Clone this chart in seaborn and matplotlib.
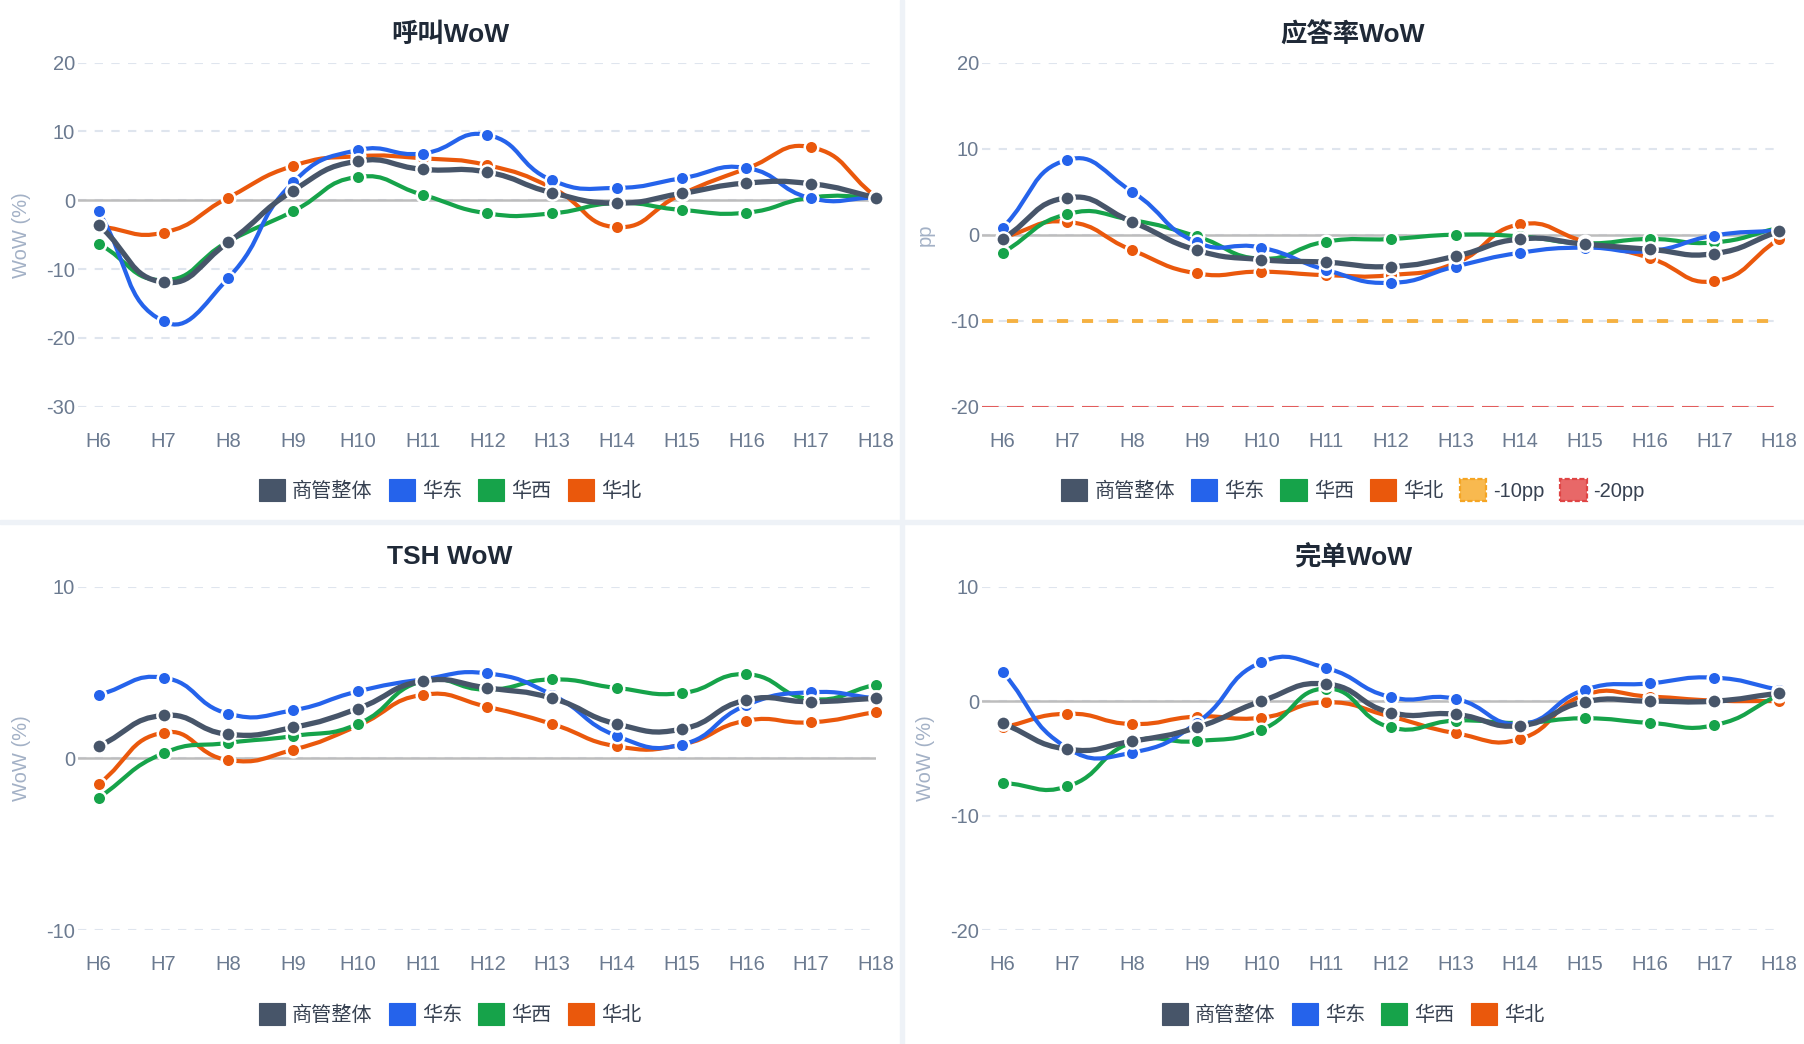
"""
plot.py

Hourly WoW dashboard: 呼叫 / 应答率 / TSH / 完单, four regions each.
Saves out.png (1804x1044).
"""

# =============================================================================
# IMPORTS
# =============================================================================

import numpy as np

import matplotlib
matplotlib.use("Agg")
import matplotlib.pyplot as plt
from matplotlib.path import Path
from matplotlib.patches import PathPatch, Patch, Rectangle

import seaborn as sns

# =============================================================================
# DATA
# =============================================================================

HOURS = ["H6", "H7", "H8", "H9", "H10", "H11", "H12",
         "H13", "H14", "H15", "H16", "H17", "H18"]

SERIES_NAMES = ["商管整体", "华东", "华西", "华北"]

# 呼叫WoW (%)
call_overall = [-3.6, -11.9, -6.1, 1.4, 5.7, 4.5, 4.1, 1.1, -0.4, 1.0, 2.5, 2.4, 0.4]
call_east = [-1.6, -17.6, -11.3, 2.6, 7.3, 6.8, 9.5, 2.9, 1.8, 3.2, 4.7, 0.3, 0.4]
call_west = [-6.3, -11.6, -6.0, -1.6, 3.4, 0.8, -1.9, -1.9, -0.4, -1.4, -1.8, 0.4, 0.5]
call_north = [-3.8, -4.7, 0.4, 5.0, 6.4, 6.1, 5.1, 1.8, -3.9, 0.9, 4.6, 7.7, 0.5]

# 应答率WoW (pp)
answer_overall = [-0.5, 4.3, 1.5, -1.8, -2.9, -3.2, -3.7, -2.5, -0.5, -1.1, -1.7, -2.2, 0.4]
answer_east = [0.8, 8.7, 5.0, -0.9, -1.5, -4.1, -5.6, -3.7, -2.1, -1.5, -1.9, -0.1, 0.5]
answer_west = [-2.1, 2.4, 1.7, -0.2, -2.8, -0.8, -0.5, 0.0, -0.2, -1.0, -0.5, -0.9, 0.8]
answer_north = [-0.3, 1.5, -1.8, -4.5, -4.3, -4.7, -4.7, -3.3, 1.2, -0.8, -2.7, -5.4, -0.5]

# TSH WoW (%)
tsh_overall = [0.7, 2.5, 1.4, 1.8, 2.9, 4.5, 4.1, 3.5, 2.0, 1.7, 3.4, 3.3, 3.5]
tsh_east = [3.7, 4.7, 2.6, 2.8, 3.9, 4.6, 4.95, 3.7, 1.3, 0.8, 3.1, 3.85, 3.5]
tsh_west = [-2.3, 0.3, 0.9, 1.3, 2.0, 4.5, 4.0, 4.6, 4.1, 3.8, 4.9, 3.45, 4.3]
tsh_north = [-1.5, 1.5, -0.1, 0.5, 1.9, 3.7, 3.0, 2.0, 0.7, 0.8, 2.2, 2.1, 2.7]

# 完单WoW (%)
done_overall = [-1.95, -4.2, -3.5, -2.3, 0.0, 1.5, -1.0, -1.15, -2.15, -0.05, 0.0, 0.0, 0.7]
done_east = [2.55, -4.1, -4.5, -1.9, 3.4, 2.9, 0.35, 0.2, -2.0, 1.0, 1.55, 2.05, 1.0]
done_west = [-7.15, -7.45, -3.6, -3.5, -2.5, 1.1, -2.3, -1.7, -1.9, -1.5, -1.9, -2.1, 0.55]
done_north = [-2.3, -1.1, -2.0, -1.35, -1.45, -0.1, -1.35, -2.8, -3.3, 0.55, 0.4, 0.05, 0.0]

# 应答率 alert thresholds
THRESHOLD_VALUES = [-10, -20]
THRESHOLD_LABELS = ["-10pp", "-20pp"]

# =============================================================================
# STYLE
# =============================================================================

SERIES_COLORS = ["#475569", "#2563eb", "#16a34a", "#ea580c"]
SERIES_WIDTHS = [3.8, 3.0, 3.0, 3.0]

THRESHOLD_LINE_COLORS = ["#f5b142", "#e25d5d"]
THRESHOLD_FACE_COLORS = ["#f8b94f", "#e86868"]
THRESHOLD_EDGE_COLORS = ["#f5a524", "#df4545"]

TITLE_COLOR = "#1f2937"
TICK_COLOR = "#6b7a90"
YLABEL_COLOR = "#a3b1c6"
LEGEND_TEXT_COLOR = "#374151"
GRID_COLOR = "#dfe5ee"
ZERO_COLOR = "#bdbdbd"
DIVIDER_COLOR = "#eef2f7"

FIG_W, FIG_H = 1804, 1044
DPI = 100

sns.set_theme(style="white")
plt.rcParams["font.family"] = ["Liberation Sans", "Noto Sans CJK SC", "DejaVu Sans"]
plt.rcParams["axes.unicode_minus"] = False
plt.rcParams["lines.scale_dashes"] = False

# =============================================================================
# HELPERS
# =============================================================================


def px_box(left, top, right, bottom):
    """Pixel box -> figure fraction [x, y, w, h]."""
    return [
        left / FIG_W,
        1 - bottom / FIG_H,
        (right - left) / FIG_W,
        (bottom - top) / FIG_H,
    ]


def smooth_path(ax, xs, ys, smooth=0.5):
    """
    Cubic bezier path through the points, same rule ECharts uses
    for smooth lines (control points computed in screen space).
    """
    pts = ax.transData.transform(np.column_stack([xs, ys]))
    n = len(pts)
    cp_in = pts.copy()
    cp_out = pts.copy()

    for i in range(n):
        prev = pts[i - 1] if i > 0 else pts[i]
        nxt = pts[i + 1] if i < n - 1 else pts[i]
        v = nxt - prev
        d0 = np.hypot(*(pts[i] - prev))
        d1 = np.hypot(*(nxt - pts[i]))
        total = d0 + d1
        if total == 0:
            continue
        ratio = d1 / total
        cp_in[i] = pts[i] - v * smooth * (1 - ratio)
        cp_out[i] = pts[i] + v * smooth * ratio

    verts = [pts[0]]
    codes = [Path.MOVETO]
    for i in range(n - 1):
        verts += [cp_out[i], cp_in[i + 1], pts[i + 1]]
        codes += [Path.CURVE4] * 3

    verts = ax.transData.inverted().transform(np.array(verts))
    return Path(verts, codes)


def draw_panel(
    fig,
    box,
    title,
    title_xy,
    series_values,
    ylim,
    yticks,
    ylabel,
    legend_xy,
    thresholds=None
):
    """
    One dashboard card: smooth lines + markers, grid, zero line, legend.
    """

    ax = fig.add_axes(box)

    x_idx = np.arange(len(HOURS))

    ax.set_xlim(-0.32, len(HOURS) - 1)
    ax.set_ylim(*ylim)
    ax.set_yticks(yticks)
    ax.set_xticks(x_idx)
    ax.set_xticklabels(HOURS)

    sns.despine(ax=ax, left=True, bottom=True)

    ax.tick_params(axis="x", length=0, pad=18, labelsize=14.5, labelcolor=TICK_COLOR)
    ax.tick_params(axis="y", length=0, pad=2, labelsize=14.5, labelcolor=TICK_COLOR)

    ax.grid(axis="y", color=GRID_COLOR, linestyle=(0, (6, 6)), linewidth=1.5)
    ax.grid(axis="x", visible=False)
    ax.set_axisbelow(True)

    ax.axhline(0, color=ZERO_COLOR, linewidth=1.8, zorder=1)

    ax.set_ylabel(ylabel, fontsize=14.5, color=YLABEL_COLOR)
    ax.yaxis.set_label_coords(-0.059, 0.5)

    handles = [
        Patch(facecolor=c, edgecolor=c, linewidth=0.8)
        for c in SERIES_COLORS
    ]
    labels = list(SERIES_NAMES)

    if thresholds is not None:
        dash_styles = [(0, (8, 10)), (0, (12, 6))]
        widths = [2.8, 1.5]
        for k, value in enumerate(thresholds):
            ax.axhline(
                value,
                color=THRESHOLD_LINE_COLORS[k],
                linestyle=dash_styles[k],
                linewidth=widths[k],
                zorder=2
            )
            handles.append(
                Patch(
                    facecolor=THRESHOLD_FACE_COLORS[k],
                    edgecolor=THRESHOLD_EDGE_COLORS[k],
                    linestyle="--",
                    linewidth=1.6
                )
            )
            labels.append(THRESHOLD_LABELS[k])

    # last legend series drawn first, 商管整体 on top
    for k in reversed(range(len(series_values))):
        values = series_values[k]
        color = SERIES_COLORS[k]
        z = 3 + (len(series_values) - k)

        path = smooth_path(ax, x_idx, values)
        ax.add_patch(
            PathPatch(
                path,
                facecolor="none",
                edgecolor=color,
                linewidth=SERIES_WIDTHS[k],
                capstyle="round",
                joinstyle="round",
                zorder=z,
                clip_on=False
            )
        )

        sns.scatterplot(
            x=x_idx,
            y=values,
            ax=ax,
            color=color,
            s=105 if k == 0 else 95,
            edgecolor="white",
            linewidth=1.8,
            zorder=z,
            clip_on=False,
            legend=False
        )

    fig.text(
        title_xy[0] / FIG_W,
        1 - title_xy[1] / FIG_H,
        title,
        ha="center",
        va="center",
        fontsize=19,
        fontweight="bold",
        color=TITLE_COLOR
    )

    ax.legend(
        handles,
        labels,
        loc="center",
        bbox_to_anchor=(legend_xy[0] / FIG_W, 1 - legend_xy[1] / FIG_H),
        bbox_transform=fig.transFigure,
        ncol=len(labels),
        frameon=False,
        fontsize=14.5,
        labelcolor=LEGEND_TEXT_COLOR,
        handlelength=1.3,
        handleheight=1.3,
        handletextpad=0.35,
        columnspacing=0.8,
        borderaxespad=0
    )

    return ax

# =============================================================================
# FIGURE
# =============================================================================

fig = plt.figure(figsize=(FIG_W / DPI, FIG_H / DPI), dpi=DPI)
fig.patch.set_facecolor("white")

# card dividers
fig.patches.append(
    Rectangle((900 / FIG_W, 0), 4 / FIG_W, 1,
              transform=fig.transFigure, color=DIVIDER_COLOR, zorder=0)
)
fig.patches.append(
    Rectangle((0, 1 - 524 / FIG_H), 1, 4 / FIG_H,
              transform=fig.transFigure, color=DIVIDER_COLOR, zorder=0)
)

# =============================================================================
# PANELS
# =============================================================================

draw_panel(
    fig,
    px_box(78, 62.7, 876, 406.7),
    "呼叫WoW",
    (450, 35),
    [call_overall, call_east, call_west, call_north],
    (-30, 20),
    [-30, -20, -10, 0, 10, 20],
    "WoW (%)",
    (450, 490)
)

draw_panel(
    fig,
    px_box(982, 62.7, 1779, 406.7),
    "应答率WoW",
    (1353, 35),
    [answer_overall, answer_east, answer_west, answer_north],
    (-20, 20),
    [-20, -10, 0, 10, 20],
    "pp",
    (1353, 490),
    thresholds=THRESHOLD_VALUES
)

draw_panel(
    fig,
    px_box(78, 586.7, 876, 930),
    "TSH WoW",
    (450, 557),
    [tsh_overall, tsh_east, tsh_west, tsh_north],
    (-10, 10),
    [-10, 0, 10],
    "WoW (%)",
    (450, 1014)
)

draw_panel(
    fig,
    px_box(982, 586.7, 1779, 930),
    "完单WoW",
    (1353, 557),
    [done_overall, done_east, done_west, done_north],
    (-20, 10),
    [-20, -10, 0, 10],
    "WoW (%)",
    (1353, 1014)
)

fig.savefig("out.png", dpi=DPI, facecolor="white")
plt.close(fig)

print("Saved: out.png")
